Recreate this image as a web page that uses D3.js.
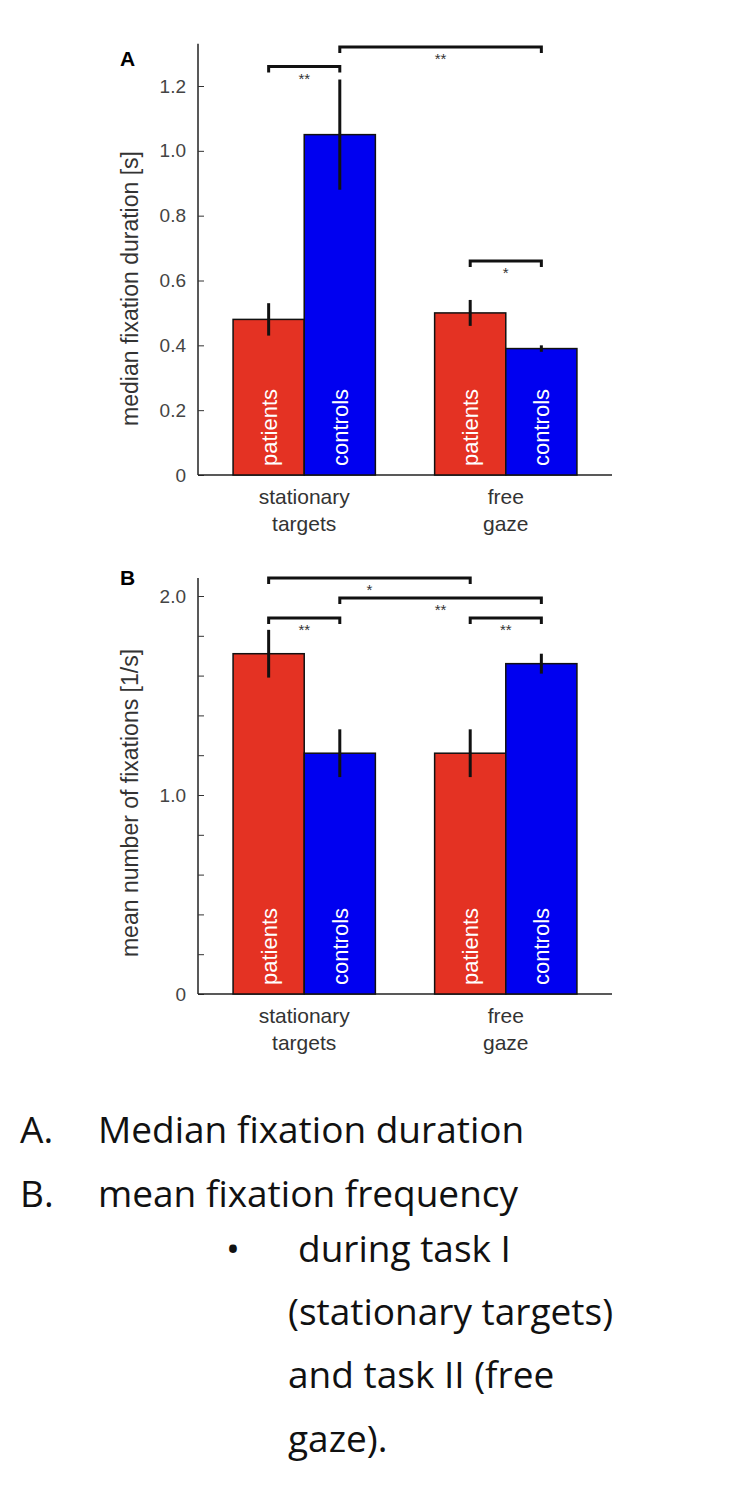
<!DOCTYPE html>
<html><head><meta charset="utf-8">
<script src="https://cdn.jsdelivr.net/npm/d3@7"></script>
<style>body{margin:0;background:#fff}</style>
</head><body>
<script>
// data
var groups = ["stationary targets", "free gaze"];
var series = ["patients", "controls"];
var durationVals = [[0.48, 1.05], [0.50, 0.39]];
var durationErr = [[0.05, 0.17], [0.04, 0.01]];
var freqVals = [[1.71, 1.21], [1.21, 1.66]];
var freqErr = [[0.12, 0.12], [0.12, 0.05]];
var durationTicks = [0, 0.2, 0.4, 0.6, 0.8, 1.0, 1.2];
var freqTicks = [0, 0.2, 0.4, 0.6, 0.8, 1.0, 1.2, 1.4, 1.6, 1.8, 2.0];
var freqLabels = {0: "0", 1: "1.0", 2: "2.0"};
// brackets: [group,series] -> [group,series], level, stars
var durationSig = [
  {a: [0, 0], b: [0, 1], y: 1.26, s: "**"},
  {a: [0, 1], b: [1, 1], y: 1.32, s: "**"},
  {a: [1, 0], b: [1, 1], y: 0.66, s: "*"}
];
var freqSig = [
  {a: [0, 0], b: [1, 0], y: 2.09, s: "*"},
  {a: [0, 1], b: [1, 1], y: 1.99, s: "**"},
  {a: [0, 0], b: [0, 1], y: 1.89, s: "**"},
  {a: [1, 0], b: [1, 1], y: 1.89, s: "**"}
];
var colors = ["#e43223", "#0000f0"];
var FF = "'Liberation Sans', Arial, sans-serif";

var svg = d3.select("body").append("svg").attr("width", 740).attr("height", 1490);

function txt(sel, size, fill, weight) {
  return sel.attr("font-family", FF).attr("font-size", size).attr("fill", fill)
    .attr("font-weight", weight || "normal");
}

function panel(opt) {
  var y = d3.scaleLinear().domain([0, opt.max]).range([opt.base, opt.top]);
  var x0 = d3.scaleBand().domain(groups).range([198, 612]).paddingInner(0.294).paddingOuter(0.174);
  var x1 = d3.scaleBand().domain(series).range([0, x0.bandwidth()]);
  var g = svg.append("g");

  var ax = d3.axisLeft(y).tickValues(opt.ticks).tickSize(-6).tickPadding(12).tickFormat(opt.fmt);
  var yg = g.append("g").attr("transform", "translate(198,0)").call(ax);
  yg.select(".domain").attr("d", "M0," + y(opt.axTop) + "V" + opt.base).attr("stroke", "#222").attr("stroke-width", 1.5);
  txt(yg.selectAll("text"), 19, "#444");
  yg.selectAll("line").attr("stroke", "#333");
  g.append("line").attr("x1", 198).attr("x2", 612).attr("y1", opt.base).attr("y2", opt.base)
    .attr("stroke", "#222").attr("stroke-width", 1.5);

  groups.forEach(function(gr, gi) {
    series.forEach(function(se, si) {
      var v = opt.vals[gi][si], e = opt.err[gi][si];
      var bx = x0(gr) + x1(se), cx = bx + x1.bandwidth() / 2;
      g.append("rect").attr("x", bx).attr("y", y(v)).attr("width", x1.bandwidth())
        .attr("height", opt.base - y(v)).attr("fill", colors[si]).attr("stroke", "#111").attr("stroke-width", 1.5);
      g.append("line").attr("x1", cx).attr("x2", cx).attr("y1", y(v - e)).attr("y2", y(v + e))
        .attr("stroke", "#111").attr("stroke-width", 3);
      txt(g.append("text").attr("transform", "translate(" + (cx + 8) + "," + (opt.base - 9) + ") rotate(-90)"), 22, "#fff")
        .text(se);
    });
    gr.split(" ").forEach(function(w, wi) {
      txt(g.append("text").attr("x", x0(gr) + x0.bandwidth() / 2).attr("y", opt.base + 29 + wi * 27)
        .attr("text-anchor", "middle"), 21, "#333").text(w);
    });
  });

  function cx(p) { return x0(groups[p[0]]) + x1(series[p[1]]) + x1.bandwidth() / 2; }
  opt.sig.forEach(function(s) {
    var xa = cx(s.a), xb = cx(s.b), yy = y(s.y);
    g.append("path").attr("d", "M" + xa + "," + (yy + 6) + "V" + yy + "H" + xb + "V" + (yy + 6))
      .attr("fill", "none").attr("stroke", "#111").attr("stroke-width", 3);
    txt(g.append("text").attr("x", (xa + xb) / 2).attr("y", yy + 17).attr("text-anchor", "middle"), 15, "#333").text(s.s);
  });

  txt(g.append("text").attr("transform", "translate(138," + ((opt.base + opt.top) / 2 + 8) + ") rotate(-90)")
    .attr("text-anchor", "middle"), 23, "#333").text(opt.label);
  txt(g.append("text").attr("x", 120).attr("y", opt.letterY), 21, "#000", "bold").text(opt.letter);
}

panel({vals: durationVals, err: durationErr, max: 1.2, base: 475, top: 86, axTop: 1.33,
  ticks: durationTicks, fmt: function(d) { return d === 0 ? "0" : d3.format(".1f")(d); },
  sig: durationSig, label: "median fixation duration [s]", letter: "A", letterY: 66});
panel({vals: freqVals, err: freqErr, max: 2.0, base: 994, top: 596, axTop: 2.09,
  ticks: freqTicks, fmt: function(d) { return freqLabels[Math.round(d * 10) / 10] || ""; },
  sig: freqSig, label: "mean number of fixations [1/s]", letter: "B", letterY: 585});

// caption
var cap = [
  {x: 20, y: 1143, t: "A."}, {x: 98, y: 1143, t: "Median fixation duration"},
  {x: 20, y: 1207, t: "B."}, {x: 98, y: 1207, t: "mean fixation frequency"},
  {x: 226, y: 1262, t: "•"}, {x: 298, y: 1262, t: "during task I"},
  {x: 288, y: 1325, t: "(stationary targets)"}, {x: 288, y: 1388, t: "and task II (free"},
  {x: 288, y: 1452, t: "gaze)."}
];
svg.selectAll("text.cap").data(cap).enter().append("text").attr("class", "cap")
  .attr("x", function(d) { return d.x; }).attr("y", function(d) { return d.y; })
  .attr("fill", "#111").attr("font-family", "'Open Sans', sans-serif").attr("font-size", 37)
  .text(function(d) { return d.t; });
</script>
</body></html>
